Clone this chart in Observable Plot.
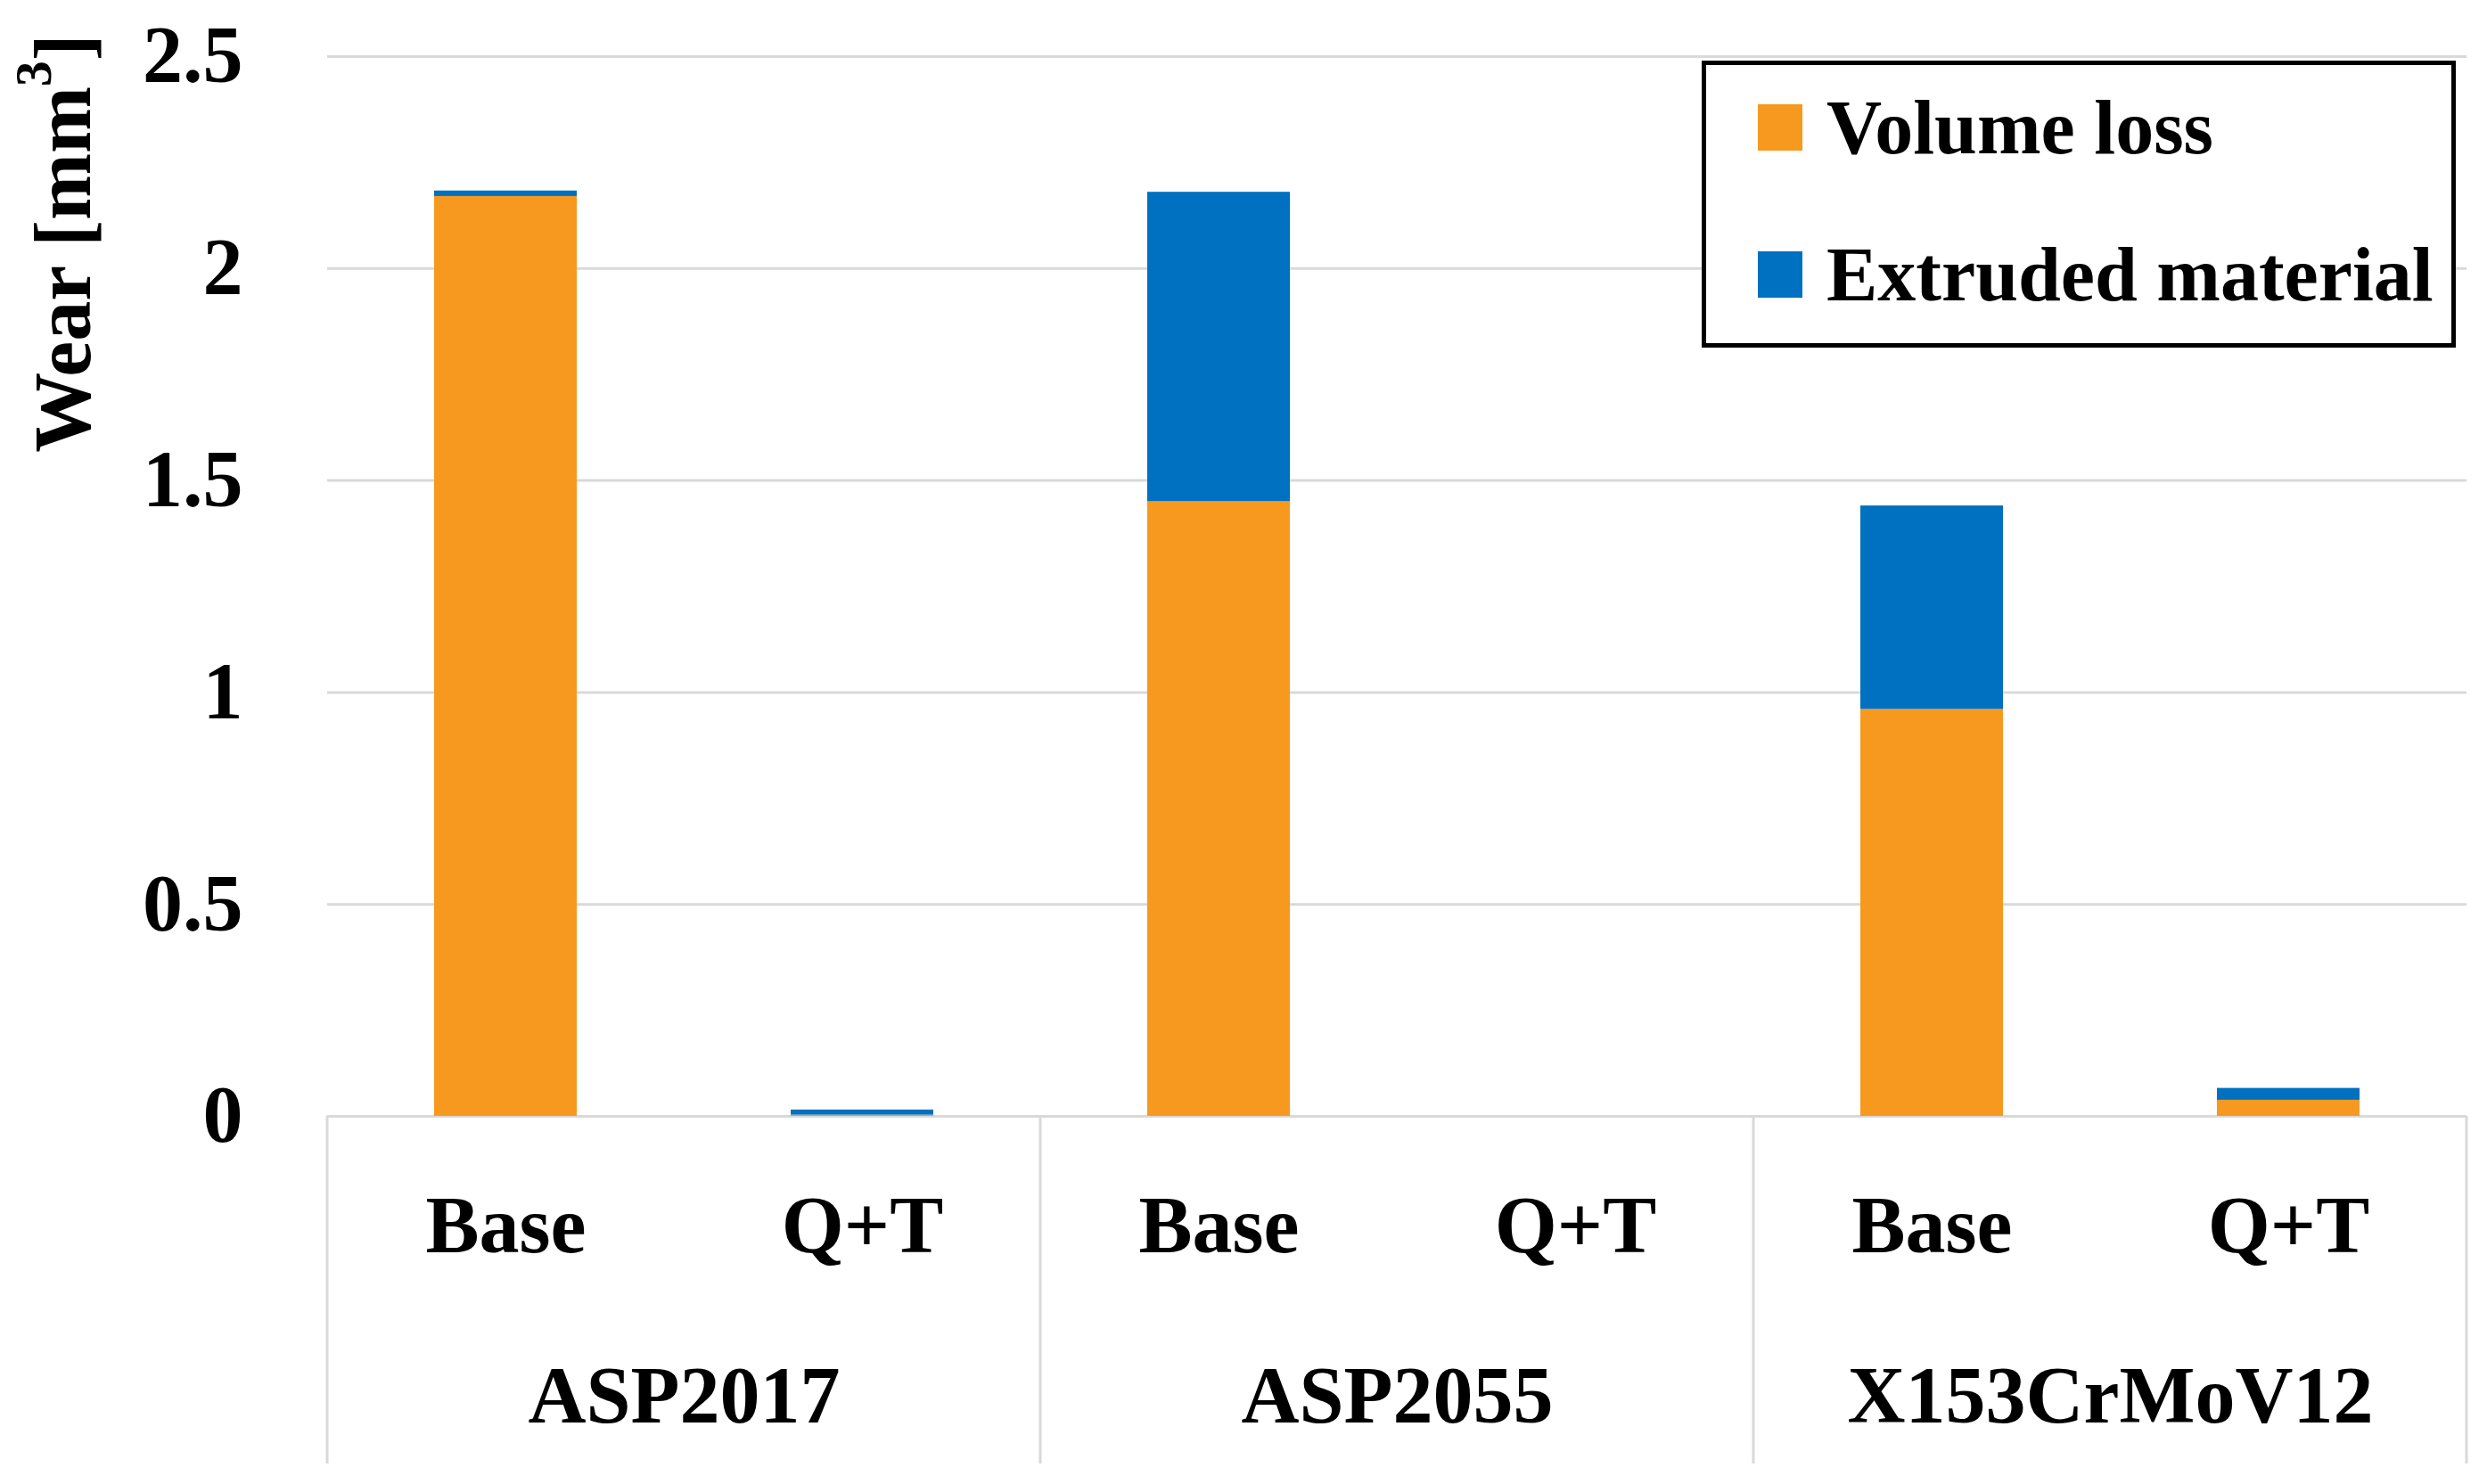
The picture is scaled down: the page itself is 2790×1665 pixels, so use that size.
<!DOCTYPE html>
<html>
<head>
<meta charset="utf-8">
<script src="https://cdn.jsdelivr.net/npm/d3@7"></script>
<script src="https://cdn.jsdelivr.net/npm/@observablehq/plot@0.6"></script>
<style>
  body { margin: 0; background: #fff; }
  #wrap { position: relative; width: 2790px; height: 1665px; background: #fff; }
  .legend { position: absolute; box-sizing: border-box; background: #fff; border: 5px solid #000;
            font-family: 'Liberation Serif', 'Times New Roman', serif; font-weight: bold; font-size: 86px; color: #000; }
  .legend .row { position: absolute; left: 58px; height: 100px; display: flex; align-items: center; white-space: nowrap; }
  .legend .sw { width: 50px; height: 52px; margin-right: 27px; }
</style>
</head>
<body>
<div id="wrap"></div>
<script>
// ---- data ----
const groups = ["ASP2017", "ASP2055", "X153CrMoV12"];
const treatments = ["Base", "Q+T"];
const series = ["Volume loss", "Extruded material"];
// order: ASP2017 Base, ASP2017 Q+T, ASP2055 Base, ASP2055 Q+T, X153 Base, X153 Q+T
const volumeLoss = [2.17, 0.003, 1.45, 0, 0.96, 0.038];
const extrudedMaterial = [0.013, 0.012, 0.73, 0, 0.48, 0.028];
const yTicks = [0, 0.5, 1, 1.5, 2, 2.5];
const colors = ["#F7991F", "#0070C0"];

// tidy table
const rows = [];
const subRows = [];
groups.forEach((g, gi) => {
  treatments.forEach((t, ti) => {
    const i = gi * treatments.length + ti;
    subRows.push({group: g, treatment: t});
    rows.push({group: g, treatment: t, series: series[0], value: volumeLoss[i]});
    rows.push({group: g, treatment: t, series: series[1], value: extrudedMaterial[i]});
  });
});

const font = "'Liberation Serif', 'Times New Roman', serif";

const chart = Plot.plot({
  width: 2790,
  height: 1665,
  marginLeft: 367,
  marginRight: 23,
  marginTop: 63,
  marginBottom: 413,
  style: {fontFamily: font, fontSize: "90px", fontWeight: "bold", color: "#000", background: "#fff"},
  fx: {domain: groups, padding: 0, axis: null},
  x: {domain: treatments, paddingInner: 0.6, paddingOuter: 0.3, axis: null},
  y: {domain: [0, 2.5], axis: null},
  color: {domain: series, range: colors},
  marks: [
    Plot.gridY(yTicks, {stroke: "#d9d9d9", strokeOpacity: 1, strokeWidth: 3}),
    Plot.barY(rows, {fx: "group", x: "treatment", y: "value", fill: "series"}),
    Plot.axisY(yTicks, {label: null, tickSize: 0, tickPadding: 95, tickFormat: d => String(d),
                        fontSize: 90, fontWeight: "bold", fill: "#000"}),
    Plot.text(subRows, {fx: "group", x: "treatment", text: "treatment", frameAnchor: "bottom", dy: 152,
                        fontSize: 90, fontWeight: "bold", fill: "#000"}),
    Plot.text(groups, {fx: d => d, text: d => d, frameAnchor: "bottom", dy: 343,
                       fontSize: 90, fontWeight: "bold", fill: "#000"})
  ]
});

document.getElementById("wrap").appendChild(chart);

// category separators below the axis (Excel multi-level axis)
const svg = d3.select(chart);
const fx = chart.scale("fx");
const y0 = chart.scale("y").apply(0);
const edges = groups.map(g => fx.apply(g));
edges.push(fx.apply(groups[groups.length - 1]) + fx.bandwidth);
svg.append("g").selectAll("line").data(edges).join("line")
  .attr("x1", d => d).attr("x2", d => d)
  .attr("y1", y0).attr("y2", 1642)
  .attr("stroke", "#d9d9d9").attr("stroke-width", 3);

// y-axis title
const t = svg.append("text")
  .attr("transform", "translate(70,273) rotate(-90)")
  .attr("text-anchor", "middle")
  .attr("dominant-baseline", "central")
  .attr("font-family", font).attr("font-weight", "bold").attr("font-size", 90).attr("fill", "#000");
t.append("tspan").text("Wear [mm");
t.append("tspan").attr("baseline-shift", "super").attr("font-size", 58).text("3");
t.append("tspan").text("]");

// legend
const legend = document.createElement("div");
legend.className = "legend";
Object.assign(legend.style, {left: "1909px", top: "68px", width: "846px", height: "322px"});
const rowTops = [20, 185];
series.forEach((s, i) => {
  const r = document.createElement("div");
  r.className = "row";
  r.style.top = rowTops[i] + "px";
  const sw = document.createElement("div");
  sw.className = "sw";
  sw.style.background = colors[i];
  const lab = document.createElement("span");
  lab.textContent = s;
  r.appendChild(sw);
  r.appendChild(lab);
  legend.appendChild(r);
});
document.getElementById("wrap").appendChild(legend);
</script>
</body>
</html>
